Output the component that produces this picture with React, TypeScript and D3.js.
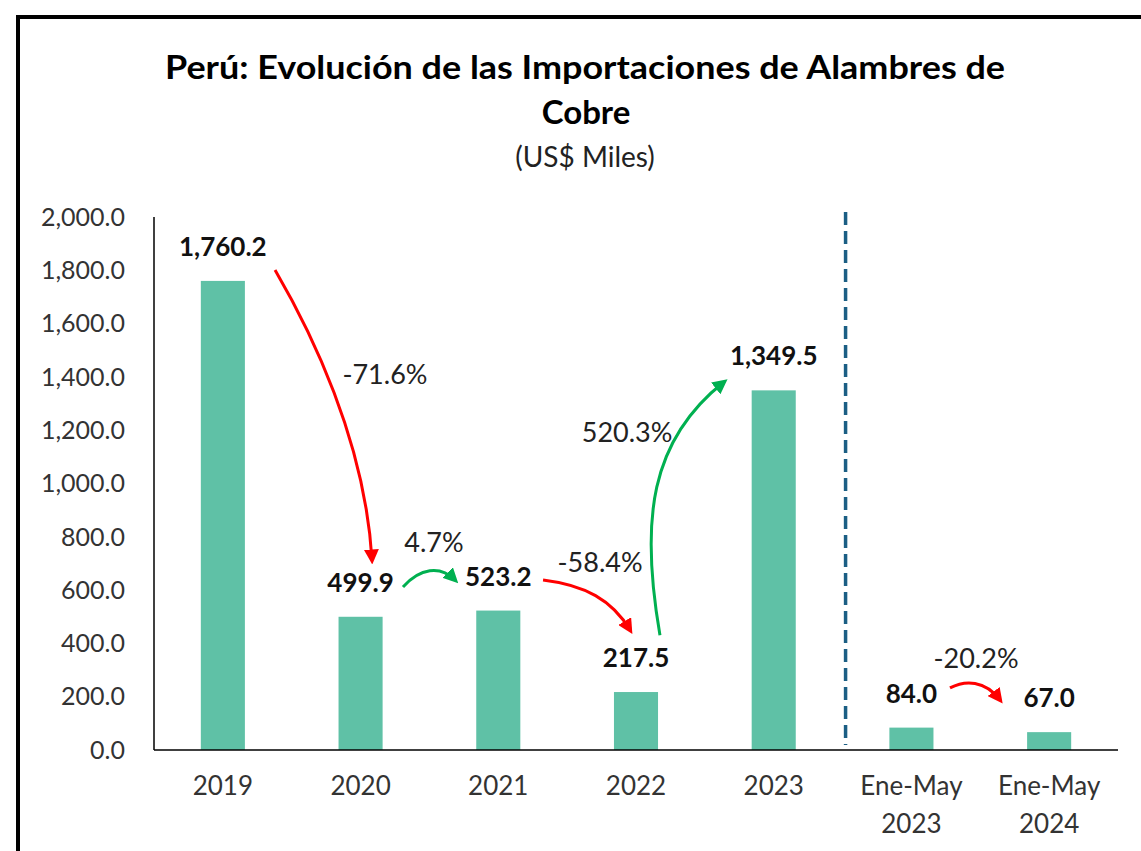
import React from "react";
import * as d3 from "d3";

const categories = ["2019", "2020", "2021", "2022", "2023", "Ene-May\n2023", "Ene-May\n2024"];
const values = [1760.2, 499.9, 523.2, 217.5, 1349.5, 84.0, 67.0];
const yTicks = [0, 200, 400, 600, 800, 1000, 1200, 1400, 1600, 1800, 2000];
const changeLabels = ["-71.6%", "4.7%", "-58.4%", "520.3%", "-20.2%"];
const changeUp = [false, true, false, true, false];

const W = 1141, H = 851;
const FONT = "Lato, 'Open Sans', sans-serif";
const BAR = "#5fc1a6";
const RED = "#ff0000";
const GREEN = "#00b050";

// arrow geometry expressed in (category-position, value) data space
// [x, v] for start, control1, control2, end
const arrowPaths: [number, number][][] = [
  [[0.379, 1801], [0.633, 1576], [1.032, 1163], [1.083, 713]],
  [[1.308, 612], [1.432, 683], [1.577, 694], [1.686, 638]],
  [[2.325, 638], [2.630, 619], [2.826, 563], [2.957, 450]],
  [[3.174, 431], [3.029, 863], [3.102, 1163], [3.639, 1381]],
  [[5.280, 233], [5.389, 263], [5.534, 263], [5.643, 188]],
];
const arrowLabelPos: [number, number][] = [
  [1.177, 1407], [1.533, 777], [2.739, 702], [2.935, 1193], [5.469, 345],
];

export default function App() {
  const left = 154, right = 1118, top = 217, bottom = 750;
  const x = d3.scaleBand<string>().domain(categories).range([left, right]).paddingInner(0.68).paddingOuter(0.34);
  const y = d3.scaleLinear().domain([0, 2000]).range([bottom, top]);
  const step = (right - left) / categories.length;
  const xc = (p: number) => left + step * (p + 0.5);
  const dashX = left + step * 5 + 3;

  return (
    <svg width={W} height={H} style={{ position: "absolute", left: 0, top: 0, background: "#fff" }} fontFamily={FONT}>
      <defs>
        <marker id="ahR" viewBox="0 0 10 10" refX="7" refY="5" markerWidth="5" markerHeight="5" orient="auto" markerUnits="strokeWidth">
          <path d="M0,0 L10,5 L0,10 z" fill={RED} />
        </marker>
        <marker id="ahG" viewBox="0 0 10 10" refX="7" refY="5" markerWidth="5" markerHeight="5" orient="auto" markerUnits="strokeWidth">
          <path d="M0,0 L10,5 L0,10 z" fill={GREEN} />
        </marker>
      </defs>
      <rect x={18} y={17} width={1200} height={900} fill="#fff" stroke="#000" strokeWidth={4} />

      <text x={585} y={79} textAnchor="middle" fontWeight="bold" fontSize={33} fill="#000" textLength={840} lengthAdjust="spacingAndGlyphs">
        Perú: Evolución de las Importaciones de Alambres de
      </text>
      <text x={586} y={124} textAnchor="middle" fontWeight="bold" fontSize={33} fill="#000">Cobre</text>
      <text x={585} y={167} textAnchor="middle" fontSize={28} fill="#222">(US$ Miles)</text>

      {/* y axis */}
      <line x1={left} x2={left} y1={top} y2={bottom} stroke="#000" strokeWidth={1.5} />
      {yTicks.map((t) => (
        <text key={t} x={125} y={y(t)} dy="0.35em" textAnchor="end" fontSize={25} fill="#333">
          {d3.format(",.1f")(t)}
        </text>
      ))}

      {/* bars */}
      {values.map((v, i) => (
        <rect key={i} x={x(categories[i])} y={y(v)} width={x.bandwidth()} height={bottom - y(v)} fill={BAR} />
      ))}
      <line x1={left} x2={right} y1={bottom} y2={bottom} stroke="#000" strokeWidth={1.5} />

      {/* separator */}
      <line x1={dashX} x2={dashX} y1={212} y2={745} stroke="#1b5e84" strokeWidth={3.5} strokeDasharray="13 6" />

      {/* value labels */}
      {values.map((v, i) => (
        <text key={i} x={xc(i)} y={y(v) - 34} dy="0.35em" textAnchor="middle" fontWeight="bold" fontSize={26} fill="#111">
          {d3.format(",.1f")(v)}
        </text>
      ))}

      {/* category labels */}
      {categories.map((c, i) => (
        <text key={c} x={xc(i)} y={786} dy="0.35em" textAnchor="middle" fontSize={26} fill="#333">
          {c.split("\n").map((line, j) => (
            <tspan key={j} x={xc(i)} dy={j === 0 ? "0.35em" : 38}>{line}</tspan>
          ))}
        </text>
      ))}

      {/* change arrows */}
      {arrowPaths.map((pts, k) => {
        const p = pts.map(([a, b]) => [xc(a), y(b)]);
        const d = `M${p[0][0]},${p[0][1]} C${p[1][0]},${p[1][1]} ${p[2][0]},${p[2][1]} ${p[3][0]},${p[3][1]}`;
        const col = changeUp[k] ? GREEN : RED;
        return (
          <path key={k} d={d} fill="none" stroke={col} strokeWidth={3} markerEnd={`url(#${changeUp[k] ? "ahG" : "ahR"})`} />
        );
      })}
      {changeLabels.map((l, k) => (
        <text key={l} x={xc(arrowLabelPos[k][0])} y={y(arrowLabelPos[k][1])} dy="0.35em" textAnchor="middle" fontSize={27} fill="#222">
          {l}
        </text>
      ))}
    </svg>
  );
}
